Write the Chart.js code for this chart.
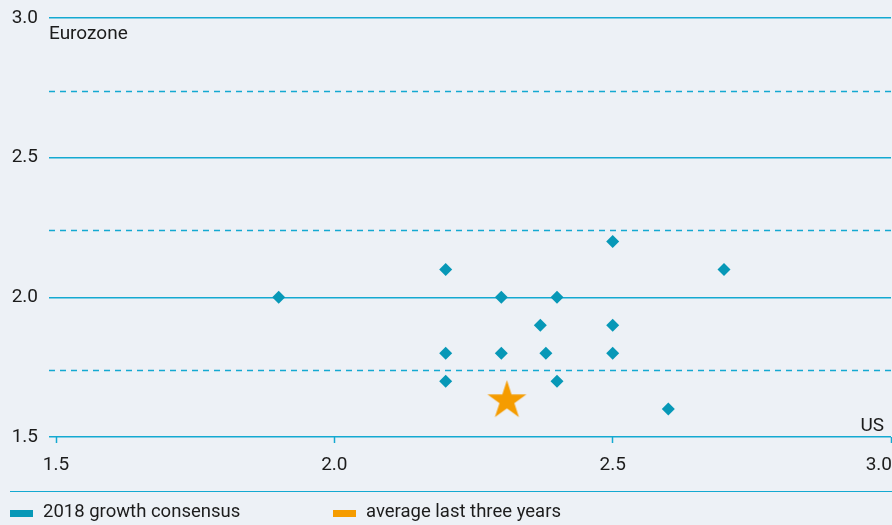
<!DOCTYPE html>
<html>
<head>
<meta charset="utf-8">
<title>2018 growth consensus: US vs Eurozone</title>
<script src="https://cdn.jsdelivr.net/npm/chart.js@4/dist/chart.umd.min.js"></script>
<style>
  html, body { margin: 0; padding: 0; background: #edf1f6; }
  #wrap { position: relative; width: 892px; height: 525px; overflow: hidden; font-family: Roboto, "Noto Sans", sans-serif; }
  #chart { position: absolute; left: 0; top: 0; }
  #rule { position: absolute; left: 10px; right: 0; top: 491px; border-top: 1.5px solid #14a9d1; }
  .item { position: absolute; top: 500px; height: 22px; line-height: 22px; font-size: 18.5px; color: #1c1c1c; white-space: nowrap; }
  .swatch { position: absolute; left: 0; top: 10px; width: 23px; height: 7px; }
  .item span.txt { position: absolute; left: 33px; top: 0; }
</style>
</head>
<body>
<div id="wrap">
  <canvas id="chart" width="892" height="525"></canvas>
  <div id="rule"></div>
  <div id="legend"></div>
</div>
<script>
// Growth forecasts for 2018 (%): US on the horizontal axis, Eurozone on the vertical one
const consensusUS = [1.9, 2.2, 2.2, 2.2, 2.3, 2.3, 2.37, 2.38, 2.4, 2.4, 2.5, 2.5, 2.5, 2.6, 2.7];
const consensusEZ = [2.0, 2.1, 1.8, 1.7, 2.0, 1.8, 1.9, 1.8, 2.0, 1.7, 2.2, 1.9, 1.8, 1.6, 2.1];
const averageUS = [2.31];
const averageEZ = [1.63];

const seriesNames = ['2018 growth consensus', 'average last three years'];
const xAxisName = 'US';
const yAxisName = 'Eurozone';
const xTicks = [1.5, 2.0, 2.5, 3.0];
const yTicks = [1.5, 2.0, 2.5, 3.0];
const dashedLevels = [1.74, 2.24, 2.74];

const FONT = 'Roboto, "Noto Sans", sans-serif';
const TEXT = '#1c1c1c';
const GRID = '#14a9d1';
const TEAL = '#0798b7';
const ORANGE = '#f59c00';

// Filled five-pointed star used as the marker for the three-year average
function starMarker(R, color) {
  const size = Math.ceil(2 * R) + 2;
  const c = document.createElement('canvas');
  c.width = size; c.height = size;
  const g = c.getContext('2d');
  const cx = size / 2, cy = size / 2, r = R * 0.382;
  g.beginPath();
  for (let i = 0; i < 10; i++) {
    const a = -Math.PI / 2 + i * Math.PI / 5;
    const rad = i % 2 ? r : R;
    const px = cx + Math.cos(a) * rad, py = cy + Math.sin(a) * rad;
    if (i === 0) g.moveTo(px, py); else g.lineTo(px, py);
  }
  g.closePath();
  g.fillStyle = color;
  g.fill();
  return c;
}

const toPoints = (xs, ys) => xs.map((x, i) => ({ x: x, y: ys[i] }));

// Dashed guides between the solid gridlines
const dashedGuides = {
  id: 'dashedGuides',
  beforeDatasetsDraw(chart) {
    const { ctx, chartArea, scales } = chart;
    ctx.save();
    ctx.strokeStyle = GRID;
    ctx.lineWidth = 1.5;
    ctx.setLineDash([6, 5]);
    dashedLevels.forEach(v => {
      const y = Math.round(scales.y.getPixelForValue(v)) + 0.5;
      ctx.beginPath();
      ctx.moveTo(chartArea.left, y);
      ctx.lineTo(chart.width, y);
      ctx.stroke();
    });
    ctx.restore();
  }
};

// Horizontal tick labels (kept inside the canvas) and the axis names
const axisText = {
  id: 'axisText',
  afterDraw(chart) {
    const { ctx, chartArea, scales } = chart;
    ctx.save();
    ctx.fillStyle = TEXT;
    ctx.font = '19px ' + FONT;
    ctx.textAlign = 'center';
    ctx.textBaseline = 'alphabetic';
    xTicks.forEach(v => {
      const label = v.toFixed(1);
      const w = ctx.measureText(label).width;
      const px = Math.min(scales.x.getPixelForValue(v), chart.width - w / 2);
      ctx.fillText(label, px, chartArea.bottom + 33);
    });
    ctx.font = '19px ' + FONT;
    ctx.textAlign = 'left';
    ctx.fillText(yAxisName, chartArea.left, chartArea.top + 21);
    ctx.textAlign = 'right';
    ctx.fillText(xAxisName, chartArea.right - 7, chartArea.bottom - 6);
    ctx.restore();
  }
};

new Chart(document.getElementById('chart'), {
  type: 'scatter',
  data: {
    datasets: [
      {
        label: seriesNames[0],
        data: toPoints(consensusUS, consensusEZ),
        pointStyle: 'rectRot',
        pointRadius: 6.5,
        borderWidth: 0,
        backgroundColor: TEAL,
        borderColor: TEAL
      },
      {
        label: seriesNames[1],
        data: toPoints(averageUS, averageEZ),
        pointStyle: starMarker(20.5, ORANGE),
        pointRadius: 20,
        backgroundColor: ORANGE,
        borderColor: ORANGE
      }
    ]
  },
  options: {
    responsive: false,
    animation: false,
    layout: { autoPadding: false, padding: { top: 18, right: 1, left: 0, bottom: 0 } },
    plugins: { legend: { display: false }, tooltip: { enabled: false } },
    scales: {
      x: {
        type: 'linear',
        min: 1.4874,
        max: 3.0,
        afterBuildTicks: s => { s.ticks = xTicks.map(v => ({ value: v })); },
        afterFit: s => { s.height = 88; s.paddingLeft = 0; s.paddingRight = 0; },
        ticks: { display: false },
        grid: { display: true, drawOnChartArea: false, drawTicks: true, tickLength: 6, tickColor: GRID, tickWidth: 1.5 },
        border: { display: false }
      },
      y: {
        type: 'linear',
        min: 1.5,
        max: 3.0,
        afterBuildTicks: s => { s.ticks = yTicks.map(v => ({ value: v })); },
        afterFit: s => { s.width = 49; s.paddingTop = 0; s.paddingBottom = 0; },
        ticks: { padding: 11, color: TEXT, font: { family: FONT, size: 19 }, callback: v => Number(v).toFixed(1) },
        grid: { color: GRID, lineWidth: 1.5, drawTicks: false },
        border: { display: false }
      }
    }
  },
  plugins: [dashedGuides, axisText]
});

// Legend under the rule, built from the series names and colours
const legendColors = [TEAL, ORANGE];
const legendLefts = [10, 333];
const legend = document.getElementById('legend');
seriesNames.forEach((name, i) => {
  const item = document.createElement('div');
  item.className = 'item';
  item.style.left = legendLefts[i] + 'px';
  const sw = document.createElement('div');
  sw.className = 'swatch';
  sw.style.background = legendColors[i];
  const t = document.createElement('span');
  t.className = 'txt';
  t.textContent = name;
  item.appendChild(sw);
  item.appendChild(t);
  legend.appendChild(item);
});
</script>
</body>
</html>
